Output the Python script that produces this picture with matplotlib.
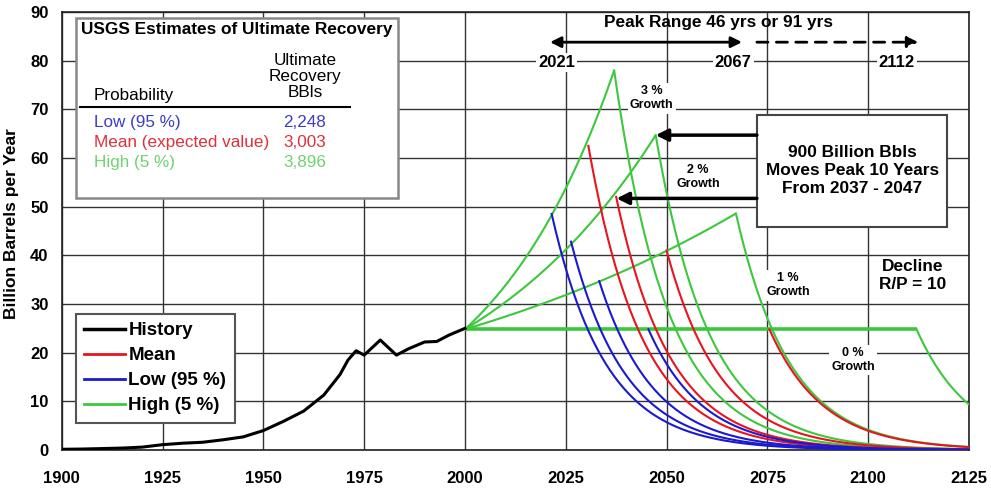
import numpy as np
import matplotlib
matplotlib.use("Agg")
import matplotlib.pyplot as plt
from matplotlib.lines import Line2D
from matplotlib.patches import Rectangle

plt.rcParams['font.family'] = ['Liberation Sans', 'DejaVu Sans']

# ---- historical world production (billion barrels per year) ----
hist_years = [1900, 1905, 1910, 1915, 1920, 1925, 1930, 1935, 1940, 1945, 1950,
              1955, 1960, 1965, 1969, 1971, 1973, 1975, 1979, 1983, 1986, 1990,
              1993, 1996, 2000]
hist_values = [0.15, 0.2, 0.3, 0.4, 0.6, 1.1, 1.4, 1.6, 2.1, 2.7, 4.0,
               5.9, 8.0, 11.3, 15.5, 18.5, 20.4, 19.5, 22.6, 19.5, 20.8, 22.2,
               22.3, 23.6, 25.0]

# ---- projection scenarios ----
start_year = 2000
start_value = 24.8
growth_labels = ['0 %', '1 %', '2 %', '3 %']

# peak year / peak rate for each recovery estimate, per growth rate (0,1,2,3 %)
low_peak_years = [2045.5, 2033.3, 2026.3, 2021.5]
low_peak_values = [24.8, 34.7, 42.8, 48.5]
mean_peak_years = [2075.5, 2050.0, 2037.5, 2030.6]
mean_peak_values = [24.8, 41.0, 52.0, 62.5]
high_peak_years = [2112.0, 2067.2, 2047.3, 2037.0]
high_peak_values = [24.8, 48.6, 64.7, 78.0]

decline_rate = 0.075   # post-peak exponential decline
end_year = 2125

fig = plt.figure(figsize=(9.91, 4.96), dpi=100)
ax = fig.add_axes([0.0623, 0.0927, 0.9155, 0.8831])

ax.set_xlim(1900, 2125)
ax.set_ylim(0, 90)
ax.set_xticks(np.arange(1900, 2126, 25))
ax.set_yticks(np.arange(0, 91, 10))
ax.grid(True, color='#333333', lw=1.0)
ax.set_axisbelow(True)
for s in ax.spines.values():
    s.set_color('#222222')
    s.set_linewidth(1.2)
ax.tick_params(axis='x', length=0, pad=15)
ax.tick_params(axis='y', length=0, pad=9.5)
for lab in ax.get_xticklabels() + ax.get_yticklabels():
    lab.set_fontweight('bold')
    lab.set_fontsize(12)
ax.set_ylabel('Billion Barrels per Year', fontsize=12.5, fontweight='bold')
ax.yaxis.set_label_coords(-0.047, 0.518)

GREEN = '#3cc83c'
RED = '#e8141e'
BLUE = '#1a1ad0'


def decline(py, pv):
    t = np.linspace(py, end_year, 300)
    return t, pv * np.exp(-decline_rate * (t - py))


# growth paths up to the high-estimate peak
for py, pv in zip(high_peak_years, high_peak_values):
    t = np.linspace(start_year, py, 200)
    r = np.log(pv / start_value) / (py - start_year)
    y = start_value * np.exp(r * (t - start_year))
    lw = 2.6 if abs(pv - start_value) < 0.5 else 1.5
    ax.plot(t, y, color=GREEN, lw=lw, zorder=3, solid_capstyle='butt')

for py, pv in zip(high_peak_years, high_peak_values):
    t, y = decline(py, pv)
    ax.plot(t, y, color=GREEN, lw=1.5, zorder=3)
for py, pv in zip(mean_peak_years, mean_peak_values):
    t, y = decline(py, pv)
    ax.plot(t, y, color=RED, lw=1.5, zorder=4)
for py, pv in zip(low_peak_years, low_peak_values):
    t, y = decline(py, pv)
    ax.plot(t, y, color=BLUE, lw=1.5, zorder=5)

ax.plot(hist_years, hist_values, color='black', lw=2.2, zorder=6)

# ---- legend ----
handles = [Line2D([], [], color='black', lw=2.5),
           Line2D([], [], color=RED, lw=2),
           Line2D([], [], color=BLUE, lw=2),
           Line2D([], [], color=GREEN, lw=2)]
leg = ax.legend(handles, ['History', 'Mean', 'Low (95 %)', 'High (5 %)'],
                loc='lower left', bbox_to_anchor=(0.0155, 0.062),
                prop={'weight': 'bold', 'size': 13.5}, fancybox=False,
                handlelength=2.2, handletextpad=0.15, labelspacing=0.42,
                borderpad=0.45, borderaxespad=0, framealpha=1)
leg.get_frame().set_edgecolor('#555555')
leg.get_frame().set_linewidth(1.5)

# ---- USGS table ----
ax.add_patch(Rectangle((1903.6, 51.7), 79.8, 37.0, facecolor='white',
                       edgecolor='#888888', lw=1.8, zorder=7))
ax.text(1943.3, 86.4, 'USGS Estimates of Ultimate Recovery', ha='center', va='center',
        fontsize=12.4, fontweight='bold', zorder=8)
ax.text(1960.3, 76.8, 'Ultimate\nRecovery\nBBls', ha='center', va='center',
        fontsize=12.3, linespacing=1.1, zorder=8)
ax.text(1908, 72.9, 'Probability', ha='left', va='center', fontsize=12.3, zorder=8)
ax.plot([1904.5, 1971.5], [70.4, 70.4], color='black', lw=1.5, zorder=8)
rows = [('Low (95 %)', '2,248', '#3c3cc8', 67.35),
        ('Mean (expected value)', '3,003', '#e0303a', 63.2),
        ('High (5 %)', '3,896', '#6fd26f', 59.1)]
for name, val, col, yy in rows:
    ax.text(1908, yy, name, color=col, ha='left', va='center', fontsize=12.3, zorder=8)
    ax.text(1960.3, yy, val, color=col, ha='center', va='center', fontsize=12.3, zorder=8)

# ---- peak range arrows ----
ax.text(2063, 87.9, 'Peak Range 46 yrs or 91 yrs', ha='center', va='center',
        fontsize=12.4, fontweight='bold', zorder=8)
ax.annotate('', xy=(2021.1, 83.8), xytext=(2068.7, 83.8),
            arrowprops=dict(arrowstyle='<|-|>', color='black', lw=2,
                            mutation_scale=16, shrinkA=0, shrinkB=0), zorder=8)
ax.annotate('', xy=(2112.4, 83.8), xytext=(2072.4, 83.8),
            arrowprops=dict(arrowstyle='-|>', color='black', lw=2, linestyle=(0, (4, 3)),
                            mutation_scale=16, shrinkA=0, shrinkB=0), zorder=8)
bg = dict(facecolor='white', edgecolor='none', pad=1.5)
for xx, lab in [(2022.8, '2021'), (2066.5, '2067'), (2107.1, '2112')]:
    ax.text(xx, 79.7, lab, ha='center', va='center', fontsize=12,
            fontweight='bold', bbox=bg, zorder=8)

# ---- growth labels ----
for xx, yy, lab in [(2046.3, 72.3, '3 %'), (2057.8, 56.1, '2 %'),
                    (2080.1, 33.9, '1 %'), (2096.2, 18.5, '0 %')]:
    ax.text(xx, yy, lab + '\nGrowth', ha='center', va='center', fontsize=9,
            fontweight='bold', linespacing=1.3, bbox=bg, zorder=8)

ax.text(2110.9, 35.9, 'Decline\nR/P = 10', ha='center', va='center', fontsize=12.4,
        fontweight='bold', linespacing=1.2, bbox=bg, zorder=8)

# ---- 900 billion barrels box ----
ax.add_patch(Rectangle((2072.4, 45.8), 47.1, 23.0, facecolor='white',
                       edgecolor='#444444', lw=1.5, zorder=7))
ax.text(2096, 57.4, '900 Billion Bbls\nMoves Peak 10 Years\nFrom 2037 - 2047',
        ha='center', va='center', fontsize=12.4, fontweight='bold',
        linespacing=1.25, zorder=8)
for yy, xt in [(64.7, 2047.3), (51.7, 2037.6)]:
    ax.annotate('', xy=(xt, yy), xytext=(2072.4, yy),
                arrowprops=dict(arrowstyle='-|>', color='black', lw=2.5,
                                mutation_scale=18, shrinkA=0, shrinkB=0), zorder=8)

fig.savefig('out.png', dpi=100)
